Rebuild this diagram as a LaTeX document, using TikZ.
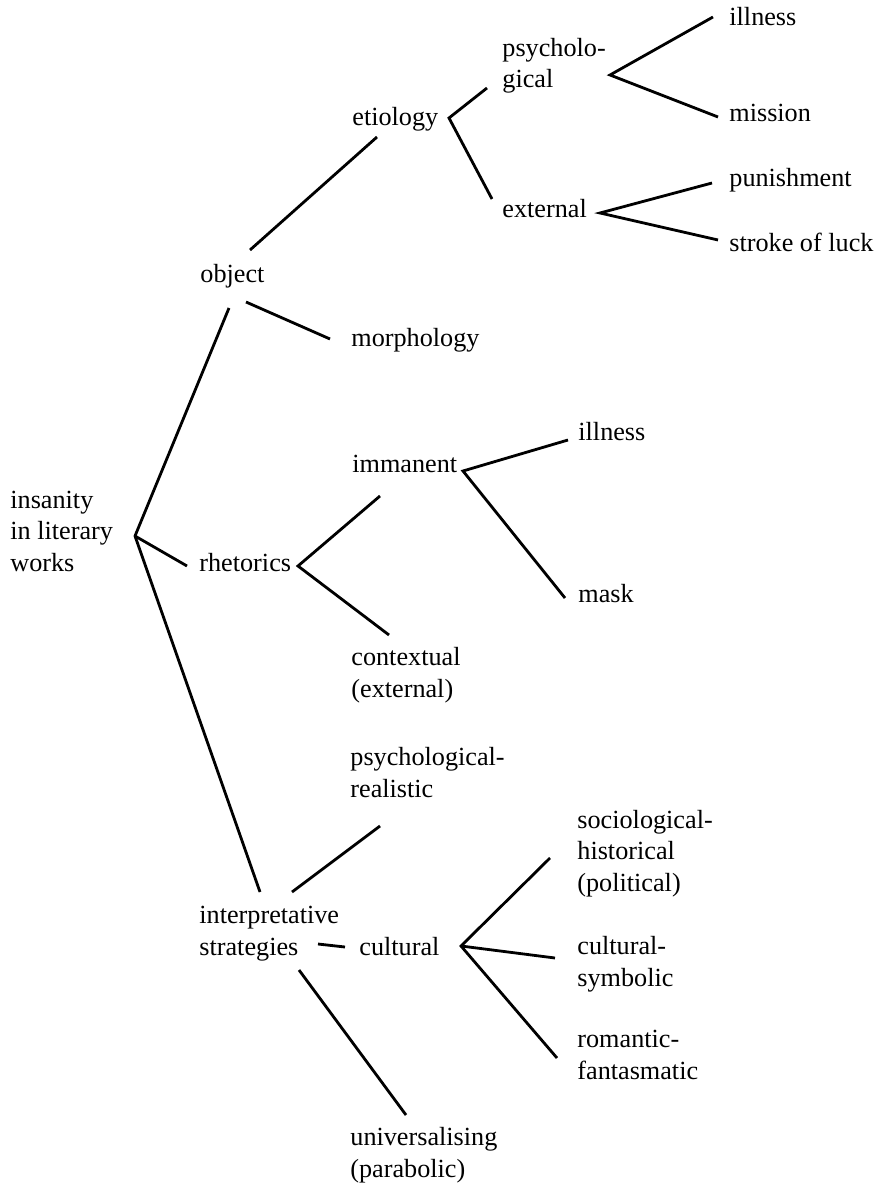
\documentclass[tikz,border=0pt]{standalone}
\usepackage{fontspec}
\setmainfont{Liberation Serif}
\usetikzlibrary{positioning}

\begin{document}
\begin{tikzpicture}[x=0.5pt, y=-0.5pt,
    term/.style={anchor=base west, inner sep=0pt, align=left, font=\fontsize{13.1}{15.75}\selectfont},
    branch/.style={line width=1.4pt}]
    \useasboundingbox (0,0) rectangle (884,1186);

    % labels (base = last line)
    \node[term] (root) at (10,571) {insanity\\in literary\\works};
    \node[term] (object) at (200,283) {object};
    \node[term] (morphology) at (351,347) {morphology};
    \node[term] (etiology) at (352,126) {etiology};
    \node[term] (psycho) at (502,88) {psycholo-\\gical};
    \node[term] (illnessA) at (729,26) {illness};
    \node[term] (mission) at (729,122) {mission};
    \node[term] (external) at (502,218) {external};
    \node[term] (punishment) at (729,187) {punishment};
    \node[term] (luck) at (729,252) {stroke of luck};
    \node[term] (rhetorics) at (199,571) {rhetorics};
    \node[term] (immanent) at (352,473) {immanent};
    \node[term] (illnessB) at (578,441) {illness};
    \node[term] (mask) at (578,602) {mask};
    \node[term] (contextual) at (351,697) {contextual\\(external)};
    \node[term] (interp) at (199,955) {interpretative\\strategies};
    \node[term] (psyreal) at (350,797) {psychological-\\realistic};
    \node[term] (cultural) at (359,955) {cultural};
    \node[term] (univ) at (350,1177) {universalising\\(parabolic)};
    \node[term] (sochist) at (577,891) {sociological-\\historical\\(political)};
    \node[term] (cultsym) at (577,986) {cultural-\\symbolic};
    \node[term] (romfant) at (577,1079) {romantic-\\fantasmatic};

    % fork points and line ends
    \coordinate (rootFork) at (135,536);
    \coordinate (objectLow) at (229,308);
    \coordinate (objectUp) at (250,250);
    \coordinate (objectRight) at (246,302);
    \coordinate (etioIn) at (377,137);
    \coordinate (morphIn) at (330,339);
    \coordinate (etioFork) at (449,118);
    \coordinate (psychoIn) at (487,88);
    \coordinate (externalIn) at (492,199);
    \coordinate (psychoFork) at (610,75);
    \coordinate (illnessAIn) at (713,17);
    \coordinate (missionIn) at (718,117);
    \coordinate (externalFork) at (600,213);
    \coordinate (punishIn) at (712,183);
    \coordinate (luckIn) at (718,240);
    \coordinate (rhetIn) at (187,566);
    \coordinate (rhetFork) at (298,566);
    \coordinate (immIn) at (380,496);
    \coordinate (ctxIn) at (389,635);
    \coordinate (immFork) at (463,471);
    \coordinate (illnessBIn) at (568,440);
    \coordinate (maskIn) at (565,598);
    \coordinate (interpUp) at (260,892);
    \coordinate (interpOut) at (292,892);
    \coordinate (psyrealIn) at (380,826);
    \coordinate (interpRight) at (318,944);
    \coordinate (culturalIn) at (345,947);
    \coordinate (interpLow) at (299,970);
    \coordinate (univIn) at (406,1115);
    \coordinate (cultFork) at (461,946);
    \coordinate (sochistIn) at (550,858);
    \coordinate (cultsymIn) at (555,958);
    \coordinate (romfantIn) at (557,1058);

    % root
    \draw[branch] (objectLow) -- (rootFork) -- (interpUp);
    \draw[branch] (rootFork) -- (rhetIn);
    % object
    \draw[branch] (objectUp) -- (etioIn);
    \draw[branch] (objectRight) -- (morphIn);
    \draw[branch] (psychoIn) -- (etioFork) -- (externalIn);
    \draw[branch] (illnessAIn) -- (psychoFork) -- (missionIn);
    \draw[branch] (punishIn) -- (externalFork) -- (luckIn);
    % rhetorics
    \draw[branch] (immIn) -- (rhetFork) -- (ctxIn);
    \draw[branch] (illnessBIn) -- (immFork) -- (maskIn);
    % interpretative strategies
    \draw[branch] (interpOut) -- (psyrealIn);
    \draw[branch] (interpRight) -- (culturalIn);
    \draw[branch] (interpLow) -- (univIn);
    \draw[branch] (sochistIn) -- (cultFork) -- (romfantIn);
    \draw[branch] (cultFork) -- (cultsymIn);
\end{tikzpicture}
\end{document}
